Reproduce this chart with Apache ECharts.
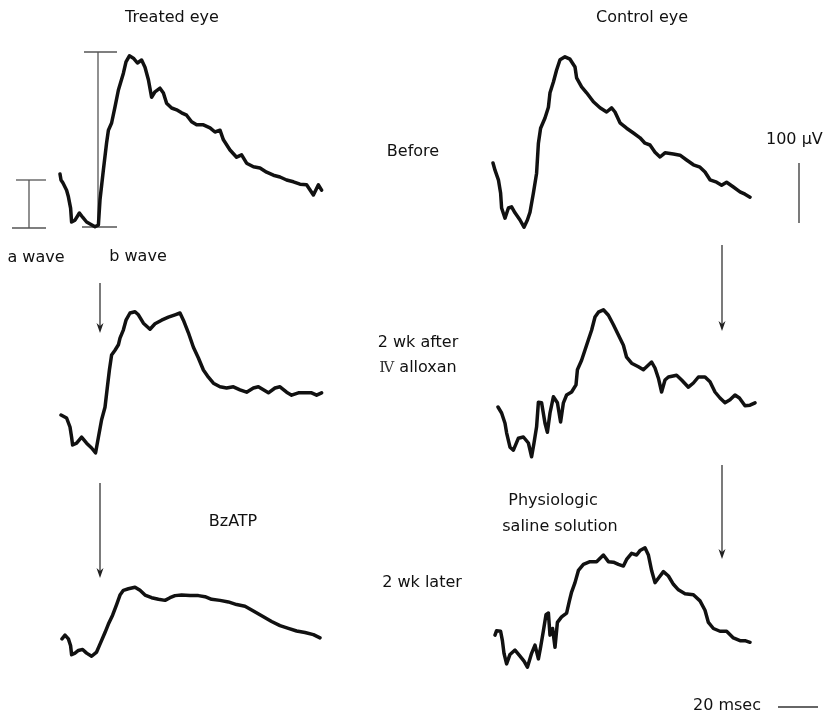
<!DOCTYPE html>
<html>
<head>
<meta charset="utf-8">
<script src="https://cdn.jsdelivr.net/npm/echarts@6/dist/echarts.min.js"></script>
<style>
  html, body { margin: 0; padding: 0; background: #fff; }
  #chart { width: 824px; height: 718px; }
</style>
</head>
<body>
<div id="chart"></div>
<script>
// ERG traces, [time msec, amplitude µV]
const treatedBefore = [[0,0],[0.5,-10],[1.5,-15],[3.3,-27],[4.2,-38],[5.3,-57],[5.8,-80],[7.5,-77],[9.7,-65],[11.3,-72],[13.3,-80],[17.5,-88],[19.2,-85],[20,-43],[21.7,7],[23.3,52],[24.2,73],[25.8,85],[27.5,112],[29.2,140],[31.7,168],[33,187],[34.7,197],[36.7,193],[38.7,185],[40.8,190],[42.5,178],[44.2,157],[45.8,128],[47.5,137],[50,143],[51.7,135],[53.3,118],[55.8,110],[58.3,107],[60.8,102],[63.3,98],[65.8,87],[68.3,82],[71.7,82],[75,77],[77.5,70],[80,73],[81.7,57],[85,40],[88.3,28],[90.8,32],[93.3,18],[96.7,12],[100,10],[103.3,3],[106.7,-2],[110,-5],[113.3,-10],[116.7,-13],[120,-17],[123.3,-18],[126.7,-35],[129.2,-18],[130.8,-27]];
const controlBefore = [[0,0],[1,-12],[2.7,-28],[3.8,-50],[4.3,-75],[6,-92],[7.7,-75],[9.3,-73],[11,-83],[13.5,-95],[15.5,-107],[17.2,-95],[18.5,-82],[20.2,-50],[21.8,-17],[22.7,33],[23.8,58],[26,75],[27.7,93],[28.5,117],[30.2,135],[31.8,155],[33.5,172],[36,177],[38.5,173],[41,160],[41.8,142],[44.3,127],[46.8,117],[50.2,102],[53.5,92],[56.8,85],[59.3,92],[61,85],[63.5,67],[66.8,58],[70.2,50],[73.5,42],[76,33],[78.5,30],[81,18],[83.5,10],[86,17],[90.2,15],[93.5,13],[96.8,5],[100.2,-3],[103.5,-7],[106,-15],[108.5,-28],[111.8,-32],[114.3,-37],[116.8,-32],[120.2,-40],[123.5,-48],[126,-52],[128.5,-57]];
const treatedAlloxan = [[0,0],[2.8,-5],[4.5,-20],[5.3,-37],[5.8,-50],[7.8,-47],[10.3,-37],[12.8,-47],[15.3,-55],[17.3,-63],[18.7,-37],[20.3,-8],[22,13],[23.2,47],[24.2,75],[25.3,100],[27,108],[28.7,117],[29.5,128],[31.2,142],[32.5,158],[34.5,170],[37,172],[38.7,167],[41.2,153],[44.5,143],[47,152],[50.3,158],[53.7,163],[57,167],[59.5,170],[61.2,158],[63.7,137],[66.2,113],[68.7,95],[71.2,75],[73.7,63],[76.2,53],[79.5,47],[82.8,45],[86.2,47],[89.5,42],[92.8,38],[96.2,45],[98.7,47],[101.2,42],[103.7,37],[107,45],[109.5,47],[112.8,38],[115.3,33],[118.7,37],[122,37],[125.3,37],[127.8,33],[130.3,37]];
const controlAlloxan = [[0,0],[1.8,-10],[3.5,-27],[4.3,-43],[6,-67],[7.7,-72],[10.2,-52],[12.7,-50],[15.2,-60],[16.8,-83],[18,-60],[19.3,-33],[20.2,8],[21.8,7],[23.5,-27],[24.7,-42],[26,-10],[27.7,17],[29.7,7],[31.3,-25],[32.7,7],[34.3,20],[36.8,25],[39,37],[39.7,62],[41.8,78],[43.5,95],[45.2,112],[46.8,128],[48.5,150],[50.2,158],[52.7,162],[55.2,153],[57.7,137],[60.2,120],[62.7,103],[64.3,83],[66.8,73],[70.2,67],[72.7,62],[74.3,67],[76.8,75],[78.5,65],[80.2,48],[81.8,25],[83.5,45],[85.2,50],[89.3,53],[91.8,45],[95.2,33],[97.7,40],[100.2,50],[103.5,50],[106,42],[108.5,25],[111,15],[113.5,7],[116,12],[118.5,20],[120.7,15],[123.5,2],[126,3],[128.5,7]];
const treatedLater = [[0,0],[1.5,7],[3.2,0],[4.3,-13],[4.8,-30],[6.5,-27],[8.2,-22],[10.3,-20],[12.3,-27],[14.8,-33],[17.3,-25],[19,-10],[21.5,12],[23.2,28],[25.3,45],[27.3,65],[29,83],[30.7,92],[33.2,95],[36.5,98],[39,92],[41.5,83],[44.8,78],[48.2,75],[51.5,73],[54,78],[56.5,82],[59.8,83],[64,82],[68.2,82],[71.5,80],[74.8,75],[79,73],[83.2,70],[87.3,65],[91.5,62],[95.7,53],[100.7,42],[104.8,33],[109,25],[113.2,20],[117.3,15],[121.5,12],[125.7,8],[129,2]];
const controlLater = [[0,0],[0.8,8],[2.8,7],[3.7,-10],[4.5,-33],[5.8,-52],[7.5,-35],[10,-27],[12.5,-38],[14.5,-47],[16.2,-58],[18.3,-33],[20,-18],[21.7,-43],[22.8,-22],[24.2,8],[25.5,37],[26.7,40],[27.5,0],[28.8,12],[30,-22],[31.2,23],[33.3,33],[35.8,40],[37.2,62],[38.3,78],[40,95],[41.7,117],[44.2,128],[47.5,133],[50.8,133],[54.2,145],[56.7,133],[59.2,132],[61.7,128],[64.2,125],[65.8,137],[68.3,148],[70.8,145],[72.5,153],[75,158],[76.7,145],[78.3,117],[80,95],[81.7,103],[84.2,115],[86.7,107],[89.2,92],[91.7,82],[95,75],[99.2,73],[102.5,62],[105,45],[106.7,23],[109.2,12],[112.5,7],[115.8,7],[119.2,-5],[122.5,-10],[125,-10],[127.5,-13]];

const traces = [treatedBefore, controlBefore, treatedAlloxan, controlAlloxan, treatedLater, controlLater];
// where each trace sits on the page (left edge, top of its box)
const gridPos = [[60, 24], [493, 13], [61, 265], [498, 257], [62, 507], [495, 497]];

const font = 'DejaVu Sans';
const myChart = echarts.init(document.getElementById('chart'), null, { renderer: 'canvas' });

function label(text, x, y, align) {
  return {
    type: 'text', x: x, y: y,
    style: {
      text: text, fill: '#111', font: '16px "' + font + '"',
      align: align || 'center', verticalAlign: 'middle'
    }
  };
}
function bar(x1, y1, x2, y2, color) {
  return { type: 'line', shape: { x1, y1, x2, y2 }, style: { stroke: color || '#555', lineWidth: 1.3 } };
}
function arrow(x, y1, y2) {
  return {
    type: 'group',
    children: [
      bar(x, y1, x, y2 - 4, '#333'),
      { type: 'polygon', shape: { points: [[x - 3.5, y2 - 10], [x, y2], [x + 3.5, y2 - 10], [x, y2 - 7]] }, style: { fill: '#222' } }
    ]
  };
}

const option = {
  animation: false,
  backgroundColor: '#fff',
  grid: gridPos.map(p => ({ left: p[0], top: p[1], width: 280, height: 240 })),
  xAxis: traces.map((t, i) => ({ type: 'value', gridIndex: i, min: 0, max: 140, show: false })),
  yAxis: traces.map((t, i) => ({ type: 'value', gridIndex: i, min: -150, max: 250, show: false })),
  series: traces.map((t, i) => ({
    type: 'line',
    xAxisIndex: i,
    yAxisIndex: i,
    data: t,
    showSymbol: false,
    clip: false,
    lineStyle: { color: '#111', width: 3.5, join: 'round', cap: 'round' }
  })),
  graphic: [
    label('Treated eye', 172, 18),
    label('Control eye', 642, 18),
    label('a wave', 36, 258),
    label('b wave', 138, 257),
    label('Before', 413, 152),
    label('100 μV', 766, 140, 'left'),
    label('2 wk after', 418, 343),
    {
      type: 'text', x: 418, y: 368,
      style: {
        text: '{r|Ⅳ} alloxan', fill: '#111', font: '16px "' + font + '"',
        align: 'center', verticalAlign: 'middle',
        rich: { r: { fontFamily: 'DejaVu Serif', fontSize: 15, fill: '#333' } }
      }
    },
    label('BzATP', 233, 522),
    label('Physiologic', 553, 501),
    label('saline solution', 560, 527),
    label('2 wk later', 422, 583),
    label('20 msec', 727, 706),
    // a wave / b wave measuring bars
    bar(29, 180, 29, 228), bar(16, 180, 46, 180), bar(12, 228, 46, 228),
    bar(98, 52, 98, 227), bar(84, 52, 117, 52), bar(82, 227, 117, 227),
    // scale bars
    bar(799, 163, 799, 223, '#333'),
    bar(778, 707, 818, 707, '#333'),
    arrow(100, 283, 333),
    arrow(100, 483, 578),
    arrow(722, 245, 331),
    arrow(722, 465, 559)
  ]
};

myChart.setOption(option);
window.addEventListener('resize', () => { myChart && myChart.resize() });
</script>
</body>
</html>
